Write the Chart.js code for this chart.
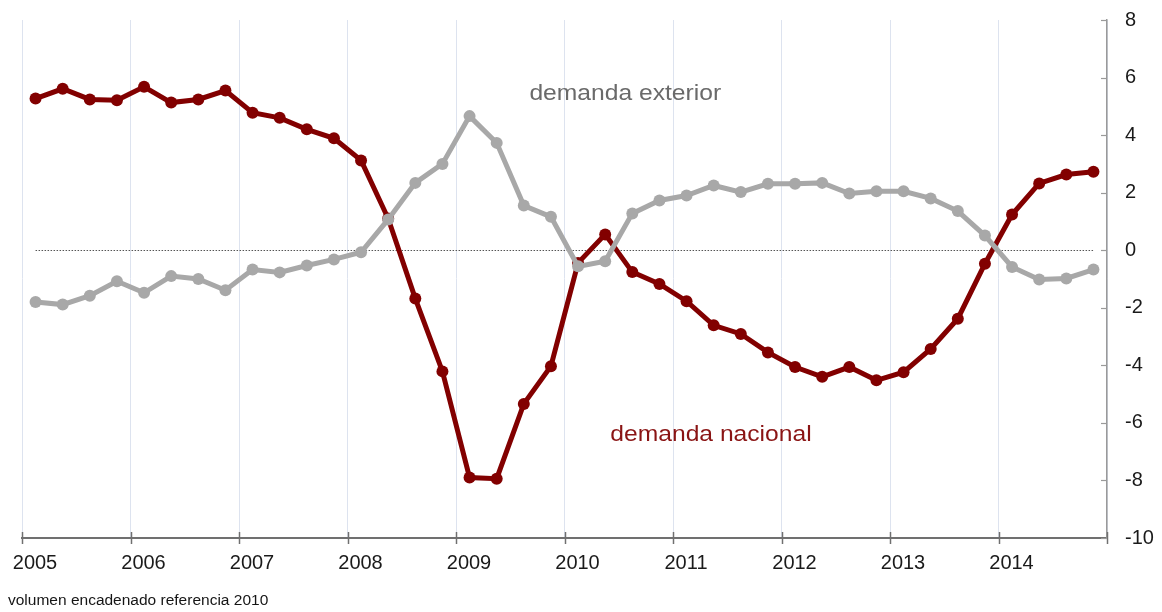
<!DOCTYPE html>
<html>
<head>
<meta charset="utf-8">
<script src="https://cdn.jsdelivr.net/npm/chart.js@4.4.1/dist/chart.umd.min.js"></script>
<style>
  html, body { margin: 0; padding: 0; background: #ffffff; }
  #wrap { position: relative; width: 1162px; height: 612px; }
  #note { position: absolute; left: 8px; top: 591px; font: 15.5px "Liberation Sans", Arial, sans-serif; color: #151515; white-space: nowrap; }
</style>
</head>
<body>
<div id="wrap">
  <canvas id="c" width="1162" height="612"></canvas>
  <div id="note">volumen encadenado referencia 2010</div>
</div>
<script>
// Quarters (categories)
const quarters = [
  '2005T1','2005T2','2005T3','2005T4',
  '2006T1','2006T2','2006T3','2006T4',
  '2007T1','2007T2','2007T3','2007T4',
  '2008T1','2008T2','2008T3','2008T4',
  '2009T1','2009T2','2009T3','2009T4',
  '2010T1','2010T2','2010T3','2010T4',
  '2011T1','2011T2','2011T3','2011T4',
  '2012T1','2012T2','2012T3','2012T4',
  '2013T1','2013T2','2013T3','2013T4',
  '2014T1','2014T2','2014T3','2014T4'
];
// demanda nacional
const demandaNacional = [
  5.27, 5.61, 5.24, 5.21,
  5.68, 5.13, 5.24, 5.55,
  4.78, 4.60, 4.20, 3.89,
  3.12, 1.10, -1.68, -4.21,
  -7.90, -7.94, -5.34, -4.03,
  -0.44, 0.55, -0.76, -1.17,
  -1.77, -2.61, -2.91, -3.55,
  -4.06, -4.40, -4.06, -4.52,
  -4.24, -3.43, -2.38, -0.47,
  1.24, 2.32, 2.63, 2.73
];
// demanda exterior
const demandaExterior = [
  -1.80, -1.89, -1.58, -1.08,
  -1.48, -0.90, -1.00, -1.39,
  -0.67, -0.77, -0.53, -0.32,
  -0.07, 1.07, 2.34, 3.00,
  4.66, 3.73, 1.55, 1.16,
  -0.56, -0.38, 1.28, 1.73,
  1.90, 2.25, 2.02, 2.31,
  2.31, 2.34, 1.97, 2.05,
  2.05, 1.80, 1.36, 0.51,
  -0.58, -1.02, -0.98, -0.67
];
// Tick labels
const yearTicks = [2005, 2006, 2007, 2008, 2009, 2010, 2011, 2012, 2013, 2014];
const yTicks = [-10, -8, -6, -4, -2, 0, 2, 4, 6, 8];
const labelNacional = 'demanda nacional';
const labelExterior = 'demanda exterior';

// quarter label -> position on the time axis (middle of the quarter)
function qPos(q) {
  const y = parseInt(q.slice(0, 4), 10);
  const n = parseInt(q.slice(5), 10);
  return y + (n - 0.5) / 4;
}
const xs = quarters.map(qPos);
const ptsNac = xs.map((x, i) => ({ x: x, y: demandaNacional[i] }));
const ptsExt = xs.map((x, i) => ({ x: x, y: demandaExterior[i] }));

const RED = '#820000';
const GRAY = '#a8a8a8';
const FONT = '"Liberation Sans", Arial, sans-serif';

function stretchedText(ctx, text, px, py, sx) {
  ctx.save();
  ctx.translate(px, py);
  ctx.scale(sx, 1);
  ctx.fillText(text, 0, 0);
  ctx.restore();
}

const decor = {
  id: 'decor',
  beforeDatasetsDraw(chart) {
    const ctx = chart.ctx, x = chart.scales.x, y = chart.scales.y;
    ctx.save();
    ctx.strokeStyle = '#555555';
    ctx.lineWidth = 1;
    ctx.setLineDash([1.5, 1.5]);
    const y0 = Math.round(y.getPixelForValue(0)) + 0.5;
    ctx.beginPath();
    ctx.moveTo(x.getPixelForValue(xs[0]), y0);
    ctx.lineTo(x.getPixelForValue(xs[xs.length - 1]), y0);
    ctx.stroke();
    ctx.restore();
  },
  afterDraw(chart) {
    const ctx = chart.ctx, x = chart.scales.x, y = chart.scales.y;
    const area = chart.chartArea;
    ctx.save();
    ctx.strokeStyle = '#707070';
    ctx.lineWidth = 1.5;
    yearTicks.concat([2015]).forEach(v => {
      const px = Math.round(x.getPixelForValue(v)) + 0.5;
      ctx.beginPath();
      ctx.moveTo(px, area.bottom - 6);
      ctx.lineTo(px, area.bottom + 6);
      ctx.stroke();
    });
    ctx.strokeStyle = '#9a9a9a';
    ctx.lineWidth = 1.2;
    yTicks.forEach(v => {
      const py = Math.round(y.getPixelForValue(v)) + 0.5;
      ctx.beginPath();
      ctx.moveTo(area.right - 6, py);
      ctx.lineTo(area.right, py);
      ctx.stroke();
    });
    ctx.font = '22px ' + FONT;
    ctx.textAlign = 'center';
    ctx.textBaseline = 'middle';
    ctx.fillStyle = '#6a6a6a';
    stretchedText(ctx, labelExterior, x.getPixelForValue(2010.56), y.getPixelForValue(5.43), 1.12);
    ctx.fillStyle = '#8a1414';
    stretchedText(ctx, labelNacional, x.getPixelForValue(2011.35), y.getPixelForValue(-6.42), 1.12);
    ctx.restore();
  }
};

new Chart(document.getElementById('c'), {
  type: 'line',
  data: {
    datasets: [
      {
        label: labelNacional,
        data: ptsNac,
        borderColor: RED,
        backgroundColor: RED,
        borderWidth: 5,
        pointRadius: 6,
        pointBorderWidth: 0,
        pointBackgroundColor: RED,
        tension: 0,
        order: 2
      },
      {
        label: labelExterior,
        data: ptsExt,
        borderColor: GRAY,
        backgroundColor: GRAY,
        borderWidth: 5,
        pointRadius: 6,
        pointBorderWidth: 0,
        pointBackgroundColor: GRAY,
        tension: 0,
        order: 1
      }
    ]
  },
  options: {
    responsive: false,
    animation: false,
    devicePixelRatio: 1,
    layout: { padding: { left: 22, right: 0, top: 20, bottom: 0 } },
    plugins: { legend: { display: false }, tooltip: { enabled: false } },
    scales: {
      x: {
        type: 'linear',
        position: 'bottom',
        min: 2005,
        max: 2015,
        afterBuildTicks(scale) {
          scale.ticks = yearTicks.concat([2015]).map(v => ({ value: v }));
        },
        afterFit(scale) {
          scale.height = 74;
          scale.paddingLeft = 0;
          scale.paddingRight = 0;
        },
        ticks: {
          autoSkip: false,
          maxRotation: 0,
          labelOffset: 13,
          padding: 13,
          color: '#1a1a1a',
          font: { family: FONT, size: 20 },
          callback: v => (v < 2015 ? String(v) : '')
        },
        grid: { color: '#dde3ef', lineWidth: 1, drawTicks: false },
        border: { color: '#707070', width: 2 }
      },
      y: {
        position: 'right',
        min: -10,
        max: 8,
        afterBuildTicks(scale) {
          scale.ticks = yTicks.map(v => ({ value: v }));
        },
        afterFit(scale) {
          scale.width = 55;
          scale.paddingTop = 0;
          scale.paddingBottom = 0;
        },
        ticks: {
          padding: 18,
          color: '#1a1a1a',
          font: { family: FONT, size: 20 },
          callback: v => String(v)
        },
        grid: { color: 'rgba(0,0,0,0)', drawTicks: false },
        border: { color: '#9a9a9a', width: 1.5 }
      }
    }
  },
  plugins: [decor]
});
</script>
</body>
</html>
